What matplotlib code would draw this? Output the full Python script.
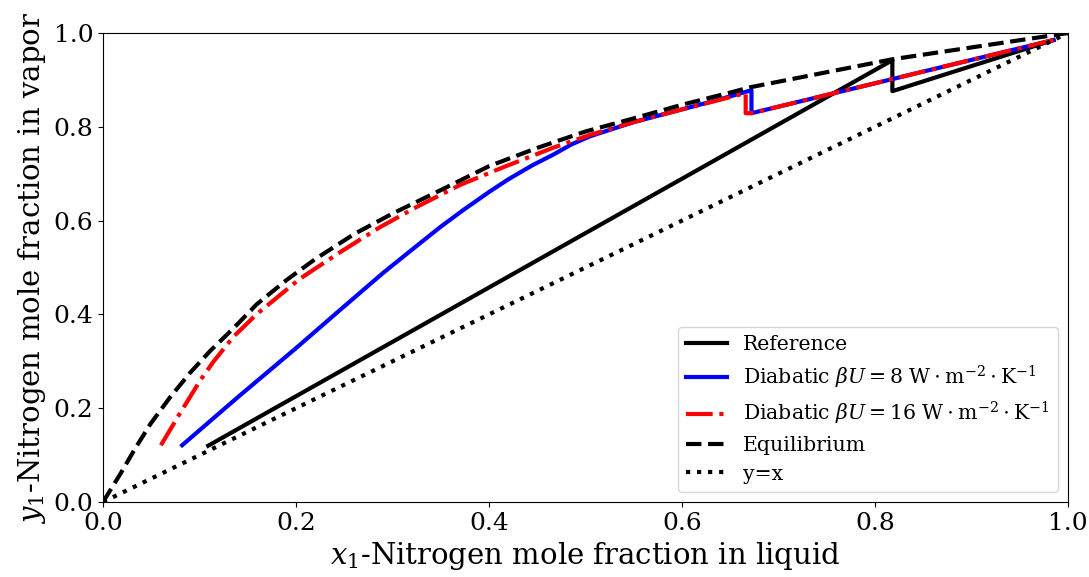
import matplotlib
matplotlib.use("Agg")
import matplotlib.pyplot as plt

plt.rcParams['font.family'] = 'DejaVu Serif'
plt.rcParams['mathtext.fontset'] = 'dejavuserif'

# Reference column (adiabatic)
ref_x = [0.109, 0.818, 0.818, 0.985]
ref_y = [0.120, 0.942, 0.876, 0.985]

# Diabatic, beta*U = 8
d8_x = [0.082, 0.14, 0.20, 0.242, 0.29, 0.325, 0.35, 0.373, 0.40, 0.42, 0.445, 0.466,
        0.485, 0.505, 0.55, 0.598, 0.64, 0.672, 0.672, 0.985]
d8_y = [0.121, 0.224, 0.328, 0.403, 0.488, 0.546, 0.587, 0.622, 0.661, 0.688, 0.718, 0.740,
        0.762, 0.780, 0.810, 0.836, 0.859, 0.878, 0.829, 0.985]

# Diabatic, beta*U = 16
d16_x = [0.060, 0.080, 0.101, 0.114, 0.135, 0.159, 0.204, 0.246, 0.287, 0.325,
         0.370, 0.415, 0.466, 0.505, 0.55, 0.598, 0.640, 0.666, 0.666, 0.672, 0.985]
d16_y = [0.121, 0.190, 0.260, 0.298, 0.352, 0.400, 0.476, 0.533, 0.586, 0.629,
         0.676, 0.714, 0.755, 0.783, 0.810, 0.836, 0.858, 0.872, 0.829, 0.829, 0.985]

# Equilibrium curve
eq_x = [0, 0.018, 0.033, 0.049, 0.069, 0.090, 0.111, 0.135, 0.159, 0.19, 0.22,
        0.26, 0.30, 0.35, 0.40, 0.45, 0.50, 0.55, 0.60, 0.65, 0.67, 0.818, 1.0]
eq_y = [0, 0.060, 0.113, 0.166, 0.222, 0.275, 0.322, 0.370, 0.421, 0.473, 0.518,
        0.571, 0.615, 0.665, 0.716, 0.755, 0.790, 0.818, 0.847, 0.873, 0.884, 0.944, 1.0]

diag = [0, 1]

fig = plt.figure(figsize=(10.89, 5.77), dpi=100)
ax = fig.add_axes([0.0946, 0.130, 0.8861, 0.8128])

ax.plot(ref_x, ref_y, color='black', lw=3, label='Reference')
ax.plot(d8_x, d8_y, color='blue', lw=3,
        label=r'Diabatic $\beta U = 8\ \mathrm{W \cdot m^{-2} \cdot K^{-1}}$')
ax.plot(d16_x, d16_y, color='red', lw=3, linestyle='-.',
        label=r'Diabatic $\beta U = 16\ \mathrm{W \cdot m^{-2} \cdot K^{-1}}$')
ax.plot(eq_x, eq_y, color='black', lw=3, linestyle='--', label='Equilibrium')
ax.plot(diag, diag, color='black', lw=3, linestyle=':', label='y=x')

ax.set_xlim(0, 1)
ax.set_ylim(0, 1)
ax.tick_params(labelsize=18)
ax.set_xlabel(r'$x_1$-Nitrogen mole fraction in liquid', fontsize=21)
ax.set_ylabel(r'$y_1$-Nitrogen mole fraction in vapor', fontsize=21)
ax.legend(loc='lower right', fontsize=14.7, labelspacing=0.45)

plt.savefig("out.png")
